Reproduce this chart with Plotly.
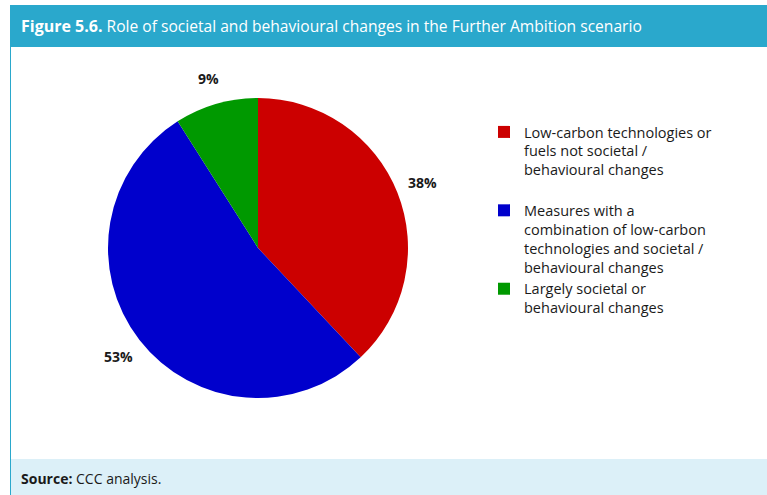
import math
import plotly.graph_objects as go

categories = [
    "Low-carbon technologies or<br>fuels not societal /<br>behavioural changes<br> ",
    "Measures with a<br>combination of low-carbon<br>technologies and societal /<br>behavioural changes",
    "Largely societal or<br>behavioural changes",
]
values = [38, 53, 9]
colors = ["#CC0000", "#0000CC", "#009900"]

title_bold = "Figure 5.6."
title_rest = " Role of societal and behavioural changes in the Further Ambition scenario"
source_bold = "Source:"
source_rest = " CCC analysis."

W, H = 767, 495
FONT = "Open Sans"

def px_x(v):
    return v / W

def px_y(v):
    return 1 - v / H

# pie geometry (pixels)
CX, CY, R = 258, 248, 150
LABEL_R = 177

fig = go.Figure()
fig.add_trace(go.Pie(
    labels=categories,
    values=values,
    marker=dict(colors=colors, line=dict(width=0)),
    sort=False,
    direction="clockwise",
    rotation=0,
    textinfo="none",
    domain=dict(x=[px_x(CX - R), px_x(CX + R)], y=[px_y(CY + R), px_y(CY - R)]),
    hoverinfo="label+percent",
    showlegend=True,
))

teal = "#2AA8CC"
light = "#DCF0F8"
shapes = [
    dict(type="rect", xref="paper", yref="paper", x0=px_x(10), x1=1.0,
         y0=px_y(47), y1=px_y(5), fillcolor=teal, line=dict(width=0), layer="below"),
    dict(type="rect", xref="paper", yref="paper", x0=px_x(10), x1=1.0,
         y0=0, y1=px_y(459), fillcolor=light, line=dict(width=0), layer="below"),
    dict(type="line", xref="paper", yref="paper", x0=px_x(10.5), x1=px_x(10.5),
         y0=0, y1=px_y(47), line=dict(color=teal, width=1)),
]

annotations = [
    dict(text=f"<b>{title_bold}</b><span style='font-size:15.6px'>{title_rest}</span>",
         xref="paper", yref="paper",
         x=px_x(19), y=px_y(26), xanchor="left", yanchor="middle", showarrow=False,
         font=dict(family=FONT, size=16, color="white")),
    dict(text=f"<b>{source_bold}</b>{source_rest}", xref="paper", yref="paper",
         x=px_x(19), y=px_y(478), xanchor="left", yanchor="middle", showarrow=False,
         font=dict(family=FONT, size=14, color="#1a1a1a")),
]

# percentage labels placed outside each slice at its mid-angle
total = sum(values)
cum = 0
for v in values:
    mid = (cum + v / 2) / total * 2 * math.pi
    cum += v
    lx = CX + LABEL_R * math.sin(mid)
    ly = CY - LABEL_R * math.cos(mid)
    annotations.append(dict(
        text=f"<b>{v}%</b>", xref="paper", yref="paper",
        x=px_x(lx), y=px_y(ly), xanchor="center", yanchor="middle",
        showarrow=False, font=dict(family=FONT, size=14, color="#1a1a1a")))

fig.update_layout(
    width=W, height=H,
    margin=dict(l=0, r=0, t=0, b=0),
    paper_bgcolor="white",
    plot_bgcolor="white",
    shapes=shapes,
    annotations=annotations,
    legend=dict(x=px_x(484), y=px_y(116), xanchor="left", yanchor="top",
                valign="top", font=dict(family=FONT, size=14.5, color="#1a1a1a"),
                itemwidth=30, tracegroupgap=0),
    font=dict(family=FONT),
)

fig.write_html("out.html")
